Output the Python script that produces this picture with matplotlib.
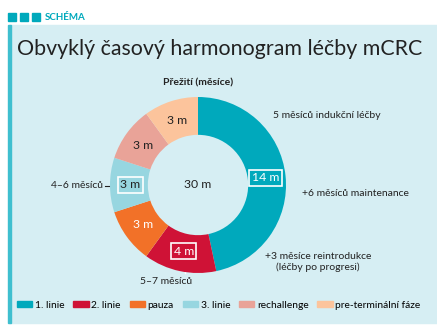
import numpy as np
import matplotlib
matplotlib.use('Agg')
import matplotlib.pyplot as plt
from matplotlib.patches import Rectangle, Patch

plt.rcParams['font.family'] = ['Lato', 'DejaVu Sans']

# data
categories = ['1. linie', '2. linie', 'pauza', '3. linie', 'rechallenge', 'pre-terminální fáze']
months = [14, 4, 3, 3, 3, 3]
colors = ['#00a9bc', '#cf1236', '#f27128', '#97d6e0', '#e9a398', '#fcc49c']
seg_labels = ['14 m', '4 m', '3 m', '3 m', '3 m', '3 m']
label_colors = ['white', 'white', 'white', '#222222', '#222222', '#222222']
boxed = [True, True, False, True, False, False]
total_label = '30 m'

W, H = 437, 333
fig = plt.figure(figsize=(W / 100, H / 100), dpi=100)
bg = fig.add_axes([0, 0, 1, 1])
bg.set_xlim(0, W)
bg.set_ylim(H, 0)
bg.axis('off')

panel = '#d6eef3'
teal = '#00a9bc'
bg.add_patch(Rectangle((9, 25), W - 9, 298, color=panel, zorder=0))
bg.add_patch(Rectangle((8, 25), 3, 298, color='#3fbfcf', zorder=1))
for x0 in (8, 20, 32):
    bg.add_patch(Rectangle((x0, 13), 8, 8, color=teal))
bg.text(45, 17, 'SCHÉMA', color=teal, fontsize=7, fontweight='bold', va='center')
bg.text(17, 49, 'Obvyklý časový harmonogram léčby mCRC', fontsize=15.4,
        color='#222222', va='center')

# donut
cx, cy, R = 198, 185, 88
pax = fig.add_axes([(cx - R) / W, (H - cy - R) / H, 2 * R / W, 2 * R / H])
wedges, _ = pax.pie(months, colors=colors, startangle=90, counterclock=False,
                    radius=1, wedgeprops=dict(width=0.43, linewidth=0))
pax.set_xlim(-1, 1)
pax.set_ylim(-1, 1)
pax.set_aspect('auto')

for w, lab, lc, bx in zip(wedges, seg_labels, label_colors, boxed):
    ang = np.deg2rad((w.theta1 + w.theta2) / 2)
    r = 0.77
    x, y = r * np.cos(ang), r * np.sin(ang)
    kw = dict(ha='center', va='center', fontsize=8.8, color=lc)
    if bx:
        kw['bbox'] = dict(boxstyle='square,pad=0.2', fc='none', ec='white', lw=1.2)
    pax.text(x, y, lab, **kw)

pax.text(0, 0, total_label, ha='center', va='center', fontsize=8.8, color='#222222')

txt = '#222222'
bg.text(198, 83, 'Přežití (měsíce)', ha='center', va='center', fontsize=7.5,
        fontweight='bold', color=txt)
bg.text(327, 115, '5 měsíců indukční léčby', ha='center', va='center', fontsize=7.5, color=txt)
bg.text(355, 193, '+6 měsíců maintenance', ha='center', va='center', fontsize=7.5, color=txt)
bg.text(318, 262, '+3 měsíce reintrodukce\n(léčby po progresi)', ha='center', va='center',
        fontsize=7.5, color=txt, linespacing=1.3)
bg.text(166, 281, '5–7 měsíců', ha='center', va='center', fontsize=7.5, color=txt)
bg.plot([185, 185], [260, 273], color='white', lw=1)
bg.text(103, 186, '4–6 měsíců', ha='right', va='center', fontsize=7.5, color=txt)
bg.plot([105, 113], [186, 186], color='#222222', lw=0.8)

handles = [Patch(color=c, label=l) for c, l in zip(colors, categories)]
fig.legend(handles=handles, loc='center left', bbox_to_anchor=(17 / W, 1 - 305 / H),
           ncol=6, frameon=False, fontsize=7.4, handlelength=1.5, handleheight=0.5,
           handletextpad=0.25, columnspacing=0.85, borderaxespad=0, borderpad=0)

fig.savefig('out.png', dpi=100)
